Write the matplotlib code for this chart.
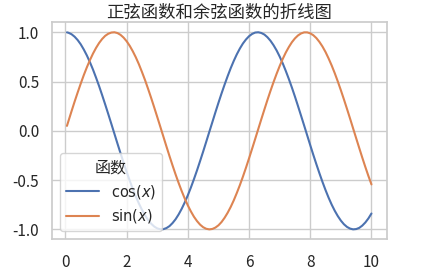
import matplotlib
matplotlib.use("Agg")
import matplotlib.pyplot as plt
import seaborn as sns

x = [0.05, 0.1, 0.2, 0.3, 0.4, 0.5, 0.6, 0.7, 0.8, 0.9,
     1.0, 1.1, 1.2, 1.3, 1.4, 1.5, 1.6, 1.7, 1.8, 1.9,
     2.0, 2.1, 2.2, 2.3, 2.4, 2.5, 2.6, 2.7, 2.8, 2.9,
     3.0, 3.1, 3.2, 3.3, 3.4, 3.5, 3.6, 3.7, 3.8, 3.9,
     4.0, 4.1, 4.2, 4.3, 4.4, 4.5, 4.6, 4.7, 4.8, 4.9,
     5.0, 5.1, 5.2, 5.3, 5.4, 5.5, 5.6, 5.7, 5.8, 5.9,
     6.0, 6.1, 6.2, 6.3, 6.4, 6.5, 6.6, 6.7, 6.8, 6.9,
     7.0, 7.1, 7.2, 7.3, 7.4, 7.5, 7.6, 7.7, 7.8, 7.9,
     8.0, 8.1, 8.2, 8.3, 8.4, 8.5, 8.6, 8.7, 8.8, 8.9,
     9.0, 9.1, 9.2, 9.3, 9.4, 9.5, 9.6, 9.7, 9.8, 9.9, 10.0]
cos_y = [0.999, 0.995, 0.980, 0.955, 0.921, 0.878, 0.825, 0.765, 0.697, 0.622,
         0.540, 0.454, 0.362, 0.267, 0.170, 0.071, -0.029, -0.129, -0.227, -0.323,
         -0.416, -0.505, -0.589, -0.666, -0.737, -0.801, -0.857, -0.904, -0.942, -0.971,
         -0.990, -0.999, -0.998, -0.987, -0.967, -0.936, -0.897, -0.848, -0.791, -0.726,
         -0.654, -0.575, -0.490, -0.401, -0.307, -0.211, -0.112, -0.012, 0.087, 0.187,
         0.284, 0.378, 0.468, 0.554, 0.635, 0.709, 0.776, 0.835, 0.886, 0.927,
         0.960, 0.983, 0.997, 1.000, 0.993, 0.977, 0.950, 0.914, 0.869, 0.816,
         0.754, 0.685, 0.608, 0.526, 0.439, 0.347, 0.251, 0.153, 0.054, -0.046,
         -0.146, -0.244, -0.339, -0.431, -0.519, -0.602, -0.679, -0.749, -0.811, -0.865,
         -0.911, -0.948, -0.975, -0.992, -1.000, -0.997, -0.985, -0.962, -0.930, -0.889,
         -0.839]
sin_y = [0.050, 0.100, 0.199, 0.296, 0.389, 0.479, 0.565, 0.644, 0.717, 0.783,
         0.841, 0.891, 0.932, 0.964, 0.985, 0.997, 1.000, 0.992, 0.974, 0.946,
         0.909, 0.863, 0.808, 0.746, 0.676, 0.598, 0.516, 0.427, 0.335, 0.239,
         0.141, 0.042, -0.058, -0.158, -0.256, -0.351, -0.443, -0.530, -0.612, -0.688,
         -0.757, -0.818, -0.872, -0.916, -0.952, -0.978, -0.994, -1.000, -0.996, -0.982,
         -0.959, -0.926, -0.883, -0.832, -0.773, -0.706, -0.631, -0.551, -0.465, -0.374,
         -0.279, -0.182, -0.083, 0.017, 0.117, 0.215, 0.312, 0.405, 0.494, 0.578,
         0.657, 0.729, 0.794, 0.850, 0.899, 0.938, 0.968, 0.988, 0.999, 0.999,
         0.989, 0.970, 0.941, 0.902, 0.855, 0.799, 0.734, 0.663, 0.585, 0.501,
         0.412, 0.319, 0.223, 0.125, 0.025, -0.075, -0.174, -0.272, -0.367, -0.458,
         -0.544]
labels = [r"cos($x$)", r"sin($x$)"]
title = "正弦函数和余弦函数的折线图"
legend_title = "函数"

sns.set_theme(style="whitegrid")
plt.rcParams['font.family'] = ['Noto Sans CJK SC', 'DejaVu Sans']
plt.rcParams['axes.unicode_minus'] = False

fig = plt.figure(figsize=(4.24, 2.70), dpi=100)
ax = fig.add_axes([0.122, 0.114, 0.79, 0.803])
ax.plot(x, cos_y, color="#4c72b0", lw=1.5, label=labels[0])
ax.plot(x, sin_y, color="#dd8452", lw=1.5, label=labels[1])
ax.set_title(title, fontsize=12.5, pad=3)
ax.tick_params(axis="x", labelsize=11, pad=5)
ax.tick_params(axis="y", labelsize=11, pad=3)
ax.set_yticks([-1.0, -0.5, 0.0, 0.5, 1.0])
ax.set_xticks([0, 2, 4, 6, 8, 10])
leg = ax.legend(title=legend_title, loc="lower left",
                prop={'family': 'DejaVu Sans', 'size': 10.5},
                title_fontproperties={'family': 'Noto Sans CJK SC', 'size': 11.5},
                handlelength=2.3, labelspacing=0.45, borderaxespad=0.55)
fig.savefig("out.png", dpi=100)
